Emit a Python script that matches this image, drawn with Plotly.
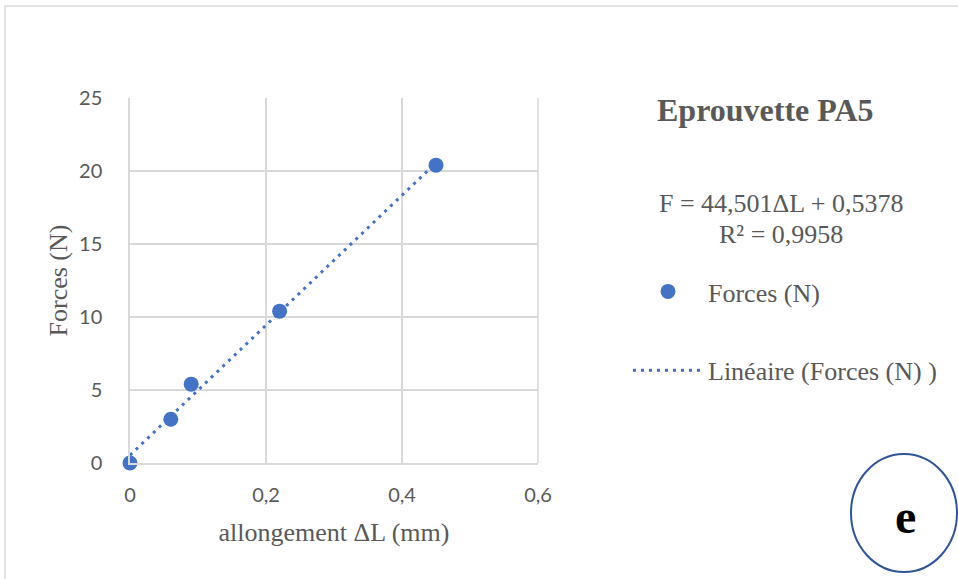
import plotly.graph_objects as go

# Measured elongation (mm) and applied force (N) for specimen PA5
elongation_mm = [0.0, 0.06, 0.09, 0.22, 0.45]
force_n = [0.0, 3.0, 5.4, 10.4, 20.4]

# Linear trend coefficients (F = a*ΔL + b) and determination coefficient
slope = 44.501
intercept = 0.5378
r_squared = 0.9958

x_ticks = [0, 0.2, 0.4, 0.6]
x_tick_text = ["0", "0,2", "0,4", "0,6"]
y_ticks = [0, 5, 10, 15, 20, 25]

trend_x = [min(elongation_mm), max(elongation_mm)]
trend_y = [slope * v + intercept for v in trend_x]

W, H = 958, 579
ML, MR, MT, MB = 130, 420, 98, 116
PW, PH = W - ML - MR, H - MT - MB


def px(xp):
    return (xp - ML) / PW


def py(yp):
    return (H - MB - yp) / PH


BLUE = "#4472c4"
GREY = "#595959"
SERIF = "Liberation Serif"

fig = go.Figure()
fig.add_trace(go.Scatter(
    x=elongation_mm, y=force_n, mode="markers", name="Forces (N)",
    marker=dict(size=15, color=BLUE), legendgroup="a", cliponaxis=False,
))
fig.add_trace(go.Scatter(
    x=trend_x, y=trend_y, mode="lines", name="Linéaire (Forces (N) )",
    line=dict(color=BLUE, width=3, dash="3px,5px"), legendgroup="b",
    cliponaxis=False,
))

fig.update_layout(
    width=W, height=H,
    margin=dict(l=ML, r=MR, t=MT, b=MB),
    paper_bgcolor="white", plot_bgcolor="white",
    showlegend=True,
    legend=dict(
        x=px(628), y=py(268), xanchor="left", yanchor="top",
        font=dict(family=SERIF, size=26, color=GREY),
        tracegroupgap=42, itemwidth=70,
        bgcolor="rgba(0,0,0,0)",
    ),
    xaxis=dict(
        range=[0, 0.6], tickvals=x_ticks, ticktext=x_tick_text,
        showgrid=True, gridcolor="#d9d9d9", gridwidth=1.5,
        zeroline=False, showline=True, linecolor="#d9d9d9", linewidth=1.5,
        ticks="outside", ticklen=13, tickcolor="rgba(0,0,0,0)",
        tickfont=dict(family="Lato", size=20, color=GREY),
        title=dict(text="allongement ΔL (mm)", standoff=18,
                   font=dict(family=SERIF, size=26, color=GREY)),
    ),
    yaxis=dict(
        range=[0, 25], tickvals=y_ticks,
        showgrid=True, gridcolor="#d9d9d9", gridwidth=1.5,
        zeroline=False, showline=True, linecolor="#d9d9d9", linewidth=1.5,
        ticks="outside", ticklen=22, tickcolor="rgba(0,0,0,0)",
        tickfont=dict(family="Lato", size=20, color=GREY),
        title=dict(text="Forces (N)", standoff=4,
                   font=dict(family=SERIF, size=26, color=GREY)),
    ),
    shapes=[
        # chart frame
        dict(type="rect", xref="paper", yref="paper",
             x0=px(5), x1=px(970), y0=py(590), y1=py(6),
             line=dict(color="#d9d9d9", width=1.5), layer="below"),
        # right border of the plot area
        dict(type="line", xref="paper", yref="paper",
             x0=1, x1=1, y0=0, y1=1,
             line=dict(color="#d9d9d9", width=1.5), layer="below"),
        # label circle
        dict(type="circle", xref="paper", yref="paper",
             x0=px(851), x1=px(957), y0=py(572), y1=py(454),
             line=dict(color="#2f5597", width=2), fillcolor="white"),
    ],
    annotations=[
        dict(text="<b>Eprouvette PA5</b>", xref="paper", yref="paper",
             x=px(765), y=py(110), xanchor="center", yanchor="middle",
             showarrow=False, font=dict(family=SERIF, size=32, color=GREY)),
        dict(text=f"F = {str(slope).replace('.', ',')}ΔL + {str(intercept).replace('.', ',')}",
             xref="paper", yref="paper",
             x=px(781), y=py(203), xanchor="center", yanchor="middle",
             showarrow=False, font=dict(family=SERIF, size=26, color=GREY)),
        dict(text=f"R² = {str(r_squared).replace('.', ',')}",
             xref="paper", yref="paper",
             x=px(781), y=py(234), xanchor="center", yanchor="middle",
             showarrow=False, font=dict(family=SERIF, size=26, color=GREY)),
        dict(text="<b>e</b>", xref="paper", yref="paper",
             x=px(905), y=py(516), xanchor="center", yanchor="middle",
             showarrow=False, font=dict(family=SERIF, size=48, color="black")),
    ],
)

fig.write_html("out.html")
